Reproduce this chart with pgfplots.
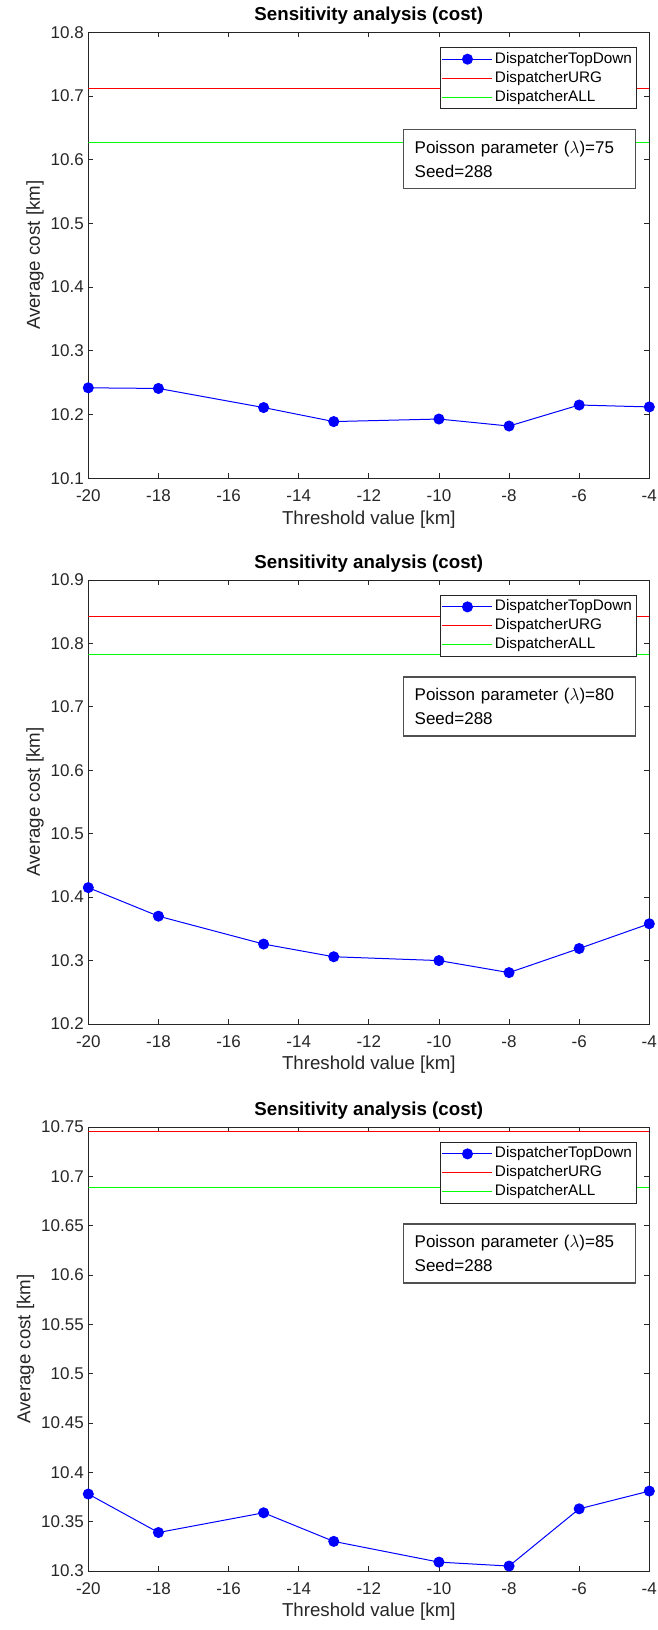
\documentclass[border=0pt]{standalone}
\usepackage{fontspec}
\setmainfont{Liberation Sans}
\usepackage{pgfplots}
\pgfplotsset{compat=1.18}
\definecolor{axgray}{RGB}{38,38,38}
\definecolor{boxgray}{RGB}{80,80,80}
\pgfplotsset{
 panel/.style={
  scale only axis, width=561pt, anchor=south west,
  xmin=-20, xmax=-4, xtick={-20,-18,-16,-14,-12,-10,-8,-6,-4},
  tick align=inside, major tick length=5pt,
  axis line style={axgray, line width=0.9pt},
  every tick/.style={axgray, line width=0.8pt},
  tick label style={font=\fontsize{17}{20}\selectfont, text=axgray},
  xticklabel style={yshift=-8pt},
  yticklabel style={xshift=-1pt},
  /pgf/number format/assume math mode=true,
  yticklabel style={/pgf/number format/.cd, fixed, precision=2},
  xlabel={Threshold value [km]}, ylabel={Average cost [km]},
  label style={font=\fontsize{18.7}{22}\selectfont, text=axgray},
  xlabel style={yshift=-2pt},
  title={Sensitivity analysis (cost)},
  title style={font=\fontsize{18.7}{22}\selectfont\bfseries, yshift=-2pt},
  legend cell align=left,
  legend style={at={(1,1)}, anchor=north east, xshift=-13pt, yshift=-15pt,
    draw=axgray, line width=0.8pt, fill=white,
    font=\fontsize{15.3}{18}\selectfont, inner sep=2pt,
    nodes={inner sep=2pt, text height=11.5pt, text depth=3.5pt}},
  legend image code/.code={\draw[mark repeat=2,mark phase=2,#1] plot coordinates {(0pt,0pt) (25pt,0pt) (50pt,0pt)};},
 },
 td/.style={blue, line width=1pt, mark=*, mark size=5pt, mark options={fill=blue, draw=blue}},
 urg/.style={red, line width=1pt, no marks},
 all/.style={green, line width=1pt, no marks},
}
\newcommand{\infobox}[1]{\node[draw=boxgray, line width=1.3pt, fill=white, anchor=north west,
  minimum width=232pt, minimum height=59pt, align=left, inner xsep=11pt,
  text width=210pt, font=\fontsize{17}{24}\selectfont] at (rel axis cs:0.561,0.783)
  {Poisson parameter ($\lambda$)=#1\\Seed=288};}
\begin{document}
\begin{tikzpicture}
\useasboundingbox (0,0) rectangle (657pt,1630pt);
% Panel 1
\begin{axis}[panel, at={(88.3pt,1151.7pt)}, height=446pt,
  ymin=10.1, ymax=10.8, ytick={10.1,10.2,10.3,10.4,10.5,10.6,10.7,10.8}]
\addplot[td] coordinates {(-20,10.242) (-18,10.241) (-15,10.211) (-13,10.189) (-10,10.193) (-8,10.182) (-6,10.215) (-4,10.212)};
\addlegendentry{DispatcherTopDown}
\addplot[urg] coordinates {(-20,10.712) (-4,10.712)};
\addlegendentry{DispatcherURG}
\addplot[all] coordinates {(-20,10.627) (-4,10.627)};
\addlegendentry{DispatcherALL}
\infobox{75}
\end{axis}
% Panel 2
\begin{axis}[panel, at={(88.3pt,606pt)}, height=444pt,
  ymin=10.2, ymax=10.9, ytick={10.2,10.3,10.4,10.5,10.6,10.7,10.8,10.9}]
\addplot[td] coordinates {(-20,10.415) (-18,10.370) (-15,10.326) (-13,10.306) (-10,10.300) (-8,10.281) (-6,10.319) (-4,10.358)};
\addlegendentry{DispatcherTopDown}
\addplot[urg] coordinates {(-20,10.843) (-4,10.843)};
\addlegendentry{DispatcherURG}
\addplot[all] coordinates {(-20,10.782) (-4,10.782)};
\addlegendentry{DispatcherALL}
\infobox{80}
\end{axis}
% Panel 3
\begin{axis}[panel, at={(88.3pt,59pt)}, height=444pt,
  ymin=10.3, ymax=10.75, ytick={10.3,10.35,10.4,10.45,10.5,10.55,10.6,10.65,10.7,10.75}]
\addplot[td] coordinates {(-20,10.378) (-18,10.339) (-15,10.359) (-13,10.330) (-10,10.309) (-8,10.305) (-6,10.363) (-4,10.381)};
\addlegendentry{DispatcherTopDown}
\addplot[urg] coordinates {(-20,10.745) (-4,10.745)};
\addlegendentry{DispatcherURG}
\addplot[all] coordinates {(-20,10.689) (-4,10.689)};
\addlegendentry{DispatcherALL}
\infobox{85}
\end{axis}
\end{tikzpicture}
\end{document}
